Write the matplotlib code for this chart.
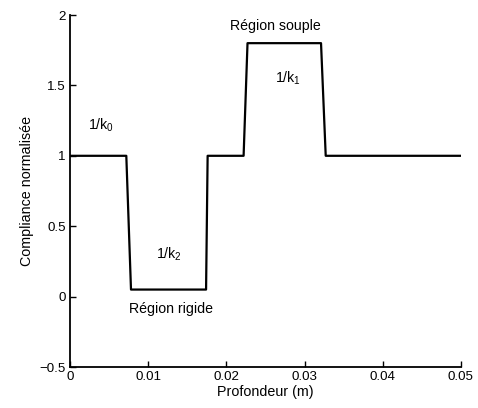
import matplotlib
matplotlib.use("Agg")
import matplotlib.pyplot as plt

# Normalised compliance profile versus depth
depth = [0.0, 0.0072, 0.0078, 0.0174, 0.0176, 0.0222, 0.0227, 0.0321, 0.0327, 0.05]
compliance = [1.0, 1.0, 0.05, 0.05, 1.0, 1.0, 1.8, 1.8, 1.0, 1.0]

xticks = [0, 0.01, 0.02, 0.03, 0.04, 0.05]
xtick_labels = ["0", "0.01", "0.02", "0.03", "0.04", "0.05"]
yticks = [-0.5, 0, 0.5, 1, 1.5, 2]
ytick_labels = ["\u22120.5", "0", "0.5", "1", "1.5", "2"]

plt.rcParams["font.family"] = ["Liberation Sans", "DejaVu Sans"]
plt.rcParams["mathtext.fontset"] = "custom"
plt.rcParams["mathtext.rm"] = "Liberation Sans"
plt.rcParams["mathtext.it"] = "Liberation Sans"

fig = plt.figure(figsize=(4.78, 4.08), dpi=100)
ax = fig.add_axes([70 / 478, 1 - 367 / 408, 391 / 478, 352 / 408])

ax.plot(depth, compliance, color="black", linewidth=1.6)

ax.set_xlim(0, 0.05)
ax.set_ylim(-0.5, 2)
ax.set_xticks(xticks)
ax.set_xticklabels(xtick_labels)
ax.set_yticks(yticks)
ax.set_yticklabels(ytick_labels)

for side in ("top", "right"):
    ax.spines[side].set_visible(False)
for side in ("left", "bottom"):
    ax.spines[side].set_linewidth(1.3)

ax.tick_params(direction="in", length=4, width=1, labelsize=9.6, pad=3)

ax.set_xlabel("Profondeur (m)", fontsize=10.3, labelpad=1)
ax.set_ylabel("Compliance normalisée", fontsize=10.3, labelpad=4)

fs = 10.2
ax.text(0.0023, 1.22, r"1/k$_{0}$", fontsize=fs, ha="left", va="center")
ax.text(0.0110, 0.30, r"1/k$_{2}$", fontsize=fs, ha="left", va="center")
ax.text(0.0076, -0.09, "Région rigide", fontsize=fs, ha="left", va="center")
ax.text(0.0204, 1.92, "Région souple", fontsize=fs, ha="left", va="center")
ax.text(0.0262, 1.55, r"1/k$_{1}$", fontsize=fs, ha="left", va="center")

fig.savefig("out.png", dpi=100)
